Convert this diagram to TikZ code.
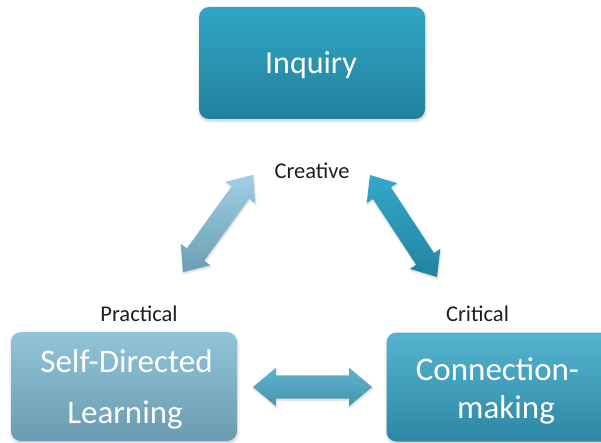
\documentclass[tikz,border=0pt]{standalone}
\usepackage{fontspec}
\setmainfont{Carlito}
\usetikzlibrary{shapes.arrows,shadows.blur}

\definecolor{inqTop}{HTML}{32A6C6}
\definecolor{inqBot}{HTML}{21809C}
\definecolor{sdlTop}{HTML}{92C5DA}
\definecolor{sdlBot}{HTML}{6A9BB0}
\definecolor{conTop}{HTML}{56B4D0}
\definecolor{conBot}{HTML}{2C87A4}
\definecolor{laTop}{HTML}{9ECFE3}
\definecolor{laBot}{HTML}{6B9EB4}
\definecolor{raTop}{HTML}{33A9CB}
\definecolor{raBot}{HTML}{2382A0}
\definecolor{haTop}{HTML}{5FB3CD}
\definecolor{haBot}{HTML}{4795AE}
\definecolor{labelText}{HTML}{1E1E1E}

\tikzset{
  softshadow/.style={blur shadow={shadow xshift=0.5pt, shadow yshift=-2pt,
      shadow blur radius=3pt, shadow blur steps=6, shadow opacity=22}},
  conceptbox/.style={rectangle, rounded corners=10pt, draw=none, softshadow,
      minimum width=226pt, minimum height=109pt, inner sep=0pt},
  boxtext/.style={text=white, inner sep=0pt, anchor=base,
      font=\fontsize{33}{38}\selectfont},
  cornerlabel/.style={text=labelText, inner sep=0pt, anchor=base,
      font=\fontsize{22.5}{26}\selectfont},
  dblarrow/.style={shape=double arrow, draw=none, inner xsep=0pt,
      inner ysep=10.5pt, double arrow head extend=7.5pt,
      double arrow tip angle=80, double arrow head indent=0pt,
      blur shadow={shadow xshift=0.5pt, shadow yshift=-1.5pt,
      shadow blur radius=2pt, shadow blur steps=5, shadow opacity=18}}
}

\begin{document}
\begin{tikzpicture}[x=1pt,y=-1pt]
  \useasboundingbox (0,0) rectangle (601,443);
  \clip (0,0) rectangle (601,443);

  % the three concept boxes
  \node[conceptbox, top color=inqTop, bottom color=inqBot,
        minimum width=226pt, minimum height=112pt] (inquiry) at (312,63) {};
  \node[conceptbox, top color=sdlTop, bottom color=sdlBot] (sdl) at (124,386.5) {};
  \node[conceptbox, top color=conTop, bottom color=conBot] (conn) at (499.5,387) {};

  % box captions
  \node[boxtext, font=\fontsize{32}{38}\selectfont] (inquirytext) at (311,73.5) {Inquiry};
  \node[boxtext] (sdltop) at (126.5,372) {Self-Directed};
  \node[boxtext] (sdlbottom) at (125,423) {Learning};
  \node[boxtext] (conntop) at (497.5,380) {Connection-};
  \node[boxtext] (connbottom) at (506,418) {making};

  % corner labels of the triangle
  \node[cornerlabel] (creative) at (312,178.3) {Creative};
  \node[cornerlabel] (practical) at (139,321.7) {Practical};
  \node[cornerlabel] (critical) at (477.5,321.7) {Critical};

  % two-way block arrows between the concepts
  \node[dblarrow, minimum height=120pt, rotate=54.2,
        top color=laTop, bottom color=laBot] (leftarrow) at (218,223.5) {};
  \node[dblarrow, minimum height=122pt, rotate=123.3,
        top color=raTop, bottom color=raBot] (rightarrow) at (403.5,226) {};
  \node[dblarrow, minimum height=119pt, inner ysep=11.5pt,
        top color=haTop, bottom color=haBot] (bottomarrow) at (312.5,387) {};
\end{tikzpicture}
\end{document}
